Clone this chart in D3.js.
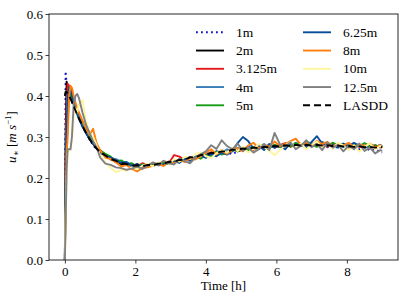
<!DOCTYPE html>
<html>
<head>
<meta charset="utf-8">
<script src="https://cdn.jsdelivr.net/npm/d3@7"></script>
<style>
  body { margin: 0; background: #fff; }
  svg text { font-family: "Liberation Serif", "Times New Roman", Tinos, "DejaVu Serif", serif !important; fill: #000; }
</style>
</head>
<body>
<div id="chart"></div>
<script>
// time in hours (finer near the start)
const time = [0, 0.02, 0.05, 0.08, 0.12, 0.16, 0.2, 0.25, 0.3, 0.35, 0.4, 0.5, 0.6, 0.7, 0.8, 0.9,
  1.0, 1.15, 1.3, 1.45, 1.6, 1.75, 1.9, 2.05, 2.2, 2.35, 2.5, 2.65, 2.8, 2.95, 3.1, 3.25, 3.4, 3.55, 3.7, 3.85,
  4.0, 4.15, 4.3, 4.45, 4.6, 4.75, 4.9, 5.05, 5.2, 5.35, 5.5, 5.65, 5.8, 5.95, 6.1, 6.25, 6.4, 6.55, 6.7, 6.85,
  7.0, 7.15, 7.3, 7.45, 7.6, 7.75, 7.9, 8.05, 8.2, 8.35, 8.5, 8.65, 8.8, 8.95, 9.0];

const names = ["1m", "2m", "3.125m", "4m", "5m", "6.25m", "8m", "10m", "12.5m", "LASDD"];
const colors = ["#1212c8", "#000000", "#e41a1c", "#377eb8", "#169c16", "#094c9c", "#ff7f0e", "#fff59d", "#808080", "#000000"];

const u1 = [0, .46, .43, .41, .40, .39, .385, .375, .365, .355, .345, .325, .31, .295, .28, .27,
  .265,.252,.249,.238,.240,.231,.235,.227,.233,.228,.236,.230,.238,.235,.243,.239,.248,.244,.253,.250,
  .260,.255,.264,.258,.262,.258,.265,.268,.275,.270,.279,.272,.280,.274,.282,.276,.284,.278,.283,.276,
  .285,.277,.282,.275,.280,.273,.279,.271,.276,.270,.274,.268,.270,.264,.262];
const u2 = [0, .30, .435, .42, .41, .40, .39, .38, .37, .36, .35, .33, .31, .295, .283, .272,
  .268,.257,.250,.244,.233,.236,.229,.234,.228,.233,.230,.236,.233,.240,.238,.245,.243,.251,.249,.257,
  .255,.262,.259,.266,.263,.271,.267,.274,.270,.276,.272,.278,.274,.280,.276,.282,.277,.283,.278,.282,
  .279,.284,.278,.281,.277,.283,.276,.280,.275,.279,.274,.278,.273,.277,.276];
const u3 = [0, .25, .38, .43, .425, .42, .41, .395, .38, .365, .35, .33, .315, .30, .285, .275,
  .262,.258,.245,.243,.238,.234,.233,.229,.236,.231,.237,.233,.241,.236,.256,.252,.244,.251,.248,.257,
  .254,.263,.258,.268,.262,.272,.265,.270,.276,.268,.279,.271,.282,.274,.280,.285,.276,.283,.279,.286,
  .277,.284,.280,.276,.285,.278,.282,.274,.281,.276,.279,.272,.280,.274,.278];
const u4 = [0, .20, .33, .40, .42, .41, .40, .39, .375, .36, .35, .33, .315, .30, .285, .275,
  .260,.256,.248,.246,.240,.237,.228,.232,.226,.234,.229,.237,.232,.239,.236,.245,.241,.250,.246,.254,
  .262,.258,.266,.261,.270,.265,.274,.268,.278,.271,.276,.283,.274,.280,.277,.284,.279,.286,.281,.277,
  .285,.280,.288,.282,.278,.284,.277,.282,.275,.280,.273,.279,.274,.281,.276];
const u5 = [0, .15, .28, .33, .41, .40, .395, .385, .37, .36, .345, .33, .31, .30, .288, .278,
  .266,.259,.252,.240,.243,.234,.236,.228,.233,.227,.235,.231,.238,.234,.242,.238,.249,.243,.252,.247,
  .256,.252,.264,.257,.262,.270,.265,.273,.268,.276,.270,.278,.273,.281,.275,.283,.277,.285,.279,.290,
  .282,.276,.284,.279,.286,.280,.283,.276,.282,.278,.285,.277,.280,.276,.279];
const u6 = [0, .18, .31, .39, .42, .415, .40, .385, .37, .355, .345, .325, .31, .295, .285, .272,
  .264,.253,.250,.242,.237,.239,.230,.233,.227,.231,.229,.235,.232,.237,.241,.237,.247,.242,.251,.255,
  .249,.258,.253,.262,.257,.266,.285,.300,.290,.272,.280,.268,.283,.274,.279,.270,.285,.277,.282,.273,
  .288,.302,.284,.278,.281,.274,.284,.278,.286,.279,.275,.283,.276,.280,.277];
const u8 = [0, .12, .26, .30, .40, .425, .42, .40, .385, .37, .36, .34, .32, .305, .32, .285,
  .268,.250,.246,.238,.228,.232,.222,.216,.224,.226,.230,.235,.229,.240,.236,.244,.239,.248,.245,.253,
  .262,.270,.258,.266,.259,.268,.273,.265,.279,.286,.272,.281,.276,.289,.278,.283,.290,.296,.281,.286,
  .278,.291,.283,.288,.277,.284,.279,.286,.276,.282,.278,.284,.275,.280,.273];
const u10 = [0, .10, .20, .26, .27, .27, .29, .35, .37, .36, .38, .39, .34, .31, .30, .28,
  .255,.238,.225,.214,.220,.218,.226,.222,.230,.235,.228,.237,.242,.234,.246,.240,.252,.247,.258,.262,
  .253,.249,.260,.268,.262,.274,.266,.277,.262,.270,.283,.276,.266,.256,.268,.279,.288,.276,.284,.270,
  .281,.289,.274,.282,.271,.286,.279,.268,.280,.264,.276,.284,.270,.278,.275];
const u12 = [0, .08, .22, .27, .27, .27, .30, .38, .40, .405, .395, .36, .33, .31, .29, .275,
  .250,.235,.232,.226,.224,.220,.223,.228,.222,.230,.238,.231,.242,.236,.233,.247,.241,.236,.250,.258,
  .265,.280,.271,.292,.278,.270,.284,.266,.275,.262,.270,.281,.268,.310,.282,.276,.287,.270,.279,.292,
  .275,.283,.268,.287,.274,.281,.265,.279,.270,.284,.266,.274,.260,.268,.266];
const lasdd = [.40, .41, .41, .405, .40, .393, .385, .375, .365, .355, .345, .327, .31, .295, .282, .272,
  .263,.255,.246,.242,.236,.234,.230,.231,.229,.232,.231,.235,.235,.239,.240,.244,.245,.250,.251,.256,
  .257,.261,.261,.265,.265,.269,.269,.272,.271,.274,.273,.276,.275,.278,.277,.280,.278,.281,.279,.281,
  .279,.281,.279,.280,.278,.279,.277,.278,.276,.277,.275,.276,.274,.276,.275];

const values = [u1, u2, u3, u4, u5, u6, u8, u10, u12, lasdd];
const xTicks = [0, 2, 4, 6, 8];
const yTicks = [0, 0.1, 0.2, 0.3, 0.4, 0.5, 0.6];

const width = 407, height = 305;
const margin = { left: 49, right: 9, top: 14, bottom: 45 };

const svg = d3.select("#chart")
  .append("svg")
  .attr("width", width)
  .attr("height", height);

const x = d3.scaleLinear().domain([-0.45, 9.45]).range([margin.left, width - margin.right]);
const y = d3.scaleLinear().domain([0, 0.6]).range([height - margin.bottom, margin.top]);

const line = d3.line()
  .x((d, i) => x(time[i]))
  .y(d => y(d));

const plot = svg.append("g");
values.forEach((vals, k) => {
  const p = plot.append("path")
    .attr("d", line(vals))
    .attr("fill", "none")
    .attr("stroke", colors[k])
    .attr("stroke-width", 1.9)
    .attr("stroke-linejoin", "round");
  if (k === 0) p.attr("stroke-dasharray", "1.8,3.2");
  if (k === 9) p.attr("stroke-dasharray", "7,4");
});

// frame
svg.append("rect")
  .attr("x", x.range()[0])
  .attr("y", y.range()[1])
  .attr("width", x.range()[1] - x.range()[0])
  .attr("height", y.range()[0] - y.range()[1])
  .attr("fill", "none")
  .attr("stroke", "#262626")
  .attr("stroke-width", 1);

const xAxis = svg.append("g")
  .attr("transform", `translate(0,${y.range()[0]})`)
  .call(d3.axisBottom(x).tickValues(xTicks).tickFormat(d3.format("d")).tickSize(3.5).tickPadding(3));
const yAxis = svg.append("g")
  .attr("transform", `translate(${x.range()[0]},0)`)
  .call(d3.axisLeft(y).tickValues(yTicks).tickFormat(d3.format(".1f")).tickSize(3.5).tickPadding(2.5));

[xAxis, yAxis].forEach(a => {
  a.attr("font-family", null);
  a.select(".domain").remove();
  a.selectAll("line").attr("stroke", "#262626").attr("stroke-width", 0.9);
  a.selectAll("text").attr("font-size", 13);
});

svg.append("text")
  .attr("x", (x.range()[0] + x.range()[1]) / 2)
  .attr("y", 290)
  .attr("text-anchor", "middle")
  .attr("font-size", 13)
  .text("Time [h]");

const ylab = svg.append("text")
  .attr("transform", `translate(16,${(y.range()[0] + y.range()[1]) / 2}) rotate(-90)`)
  .attr("text-anchor", "middle")
  .attr("font-size", 13);
ylab.append("tspan").attr("font-style", "italic").text("u");
ylab.append("tspan").attr("font-size", 9).attr("dy", 3).text("∗");
ylab.append("tspan").attr("dy", -3).text(" [");
ylab.append("tspan").attr("font-style", "italic").text("m s");
ylab.append("tspan").attr("font-size", 9).attr("dy", -5).text("−1");
ylab.append("tspan").attr("dy", 5).text("]");

// legend, two columns filled column by column
const legend = svg.append("g");
names.forEach((n, k) => {
  const col = Math.floor(k / 5), row = k % 5;
  const lx = col === 0 ? 196 : 303;
  const ly = 32.3 + row * 18.25;
  const l = legend.append("line")
    .attr("x1", lx).attr("x2", lx + 28)
    .attr("y1", ly).attr("y2", ly)
    .attr("stroke", colors[k])
    .attr("stroke-width", 1.9);
  if (k === 0) l.attr("stroke-dasharray", "1.8,3.2");
  if (k === 9) l.attr("stroke-dasharray", "7,4");
  legend.append("text")
    .attr("x", lx + 40)
    .attr("y", ly + 4.5)
    .attr("font-size", 13.5)
    .text(n);
});
</script>
</body>
</html>
